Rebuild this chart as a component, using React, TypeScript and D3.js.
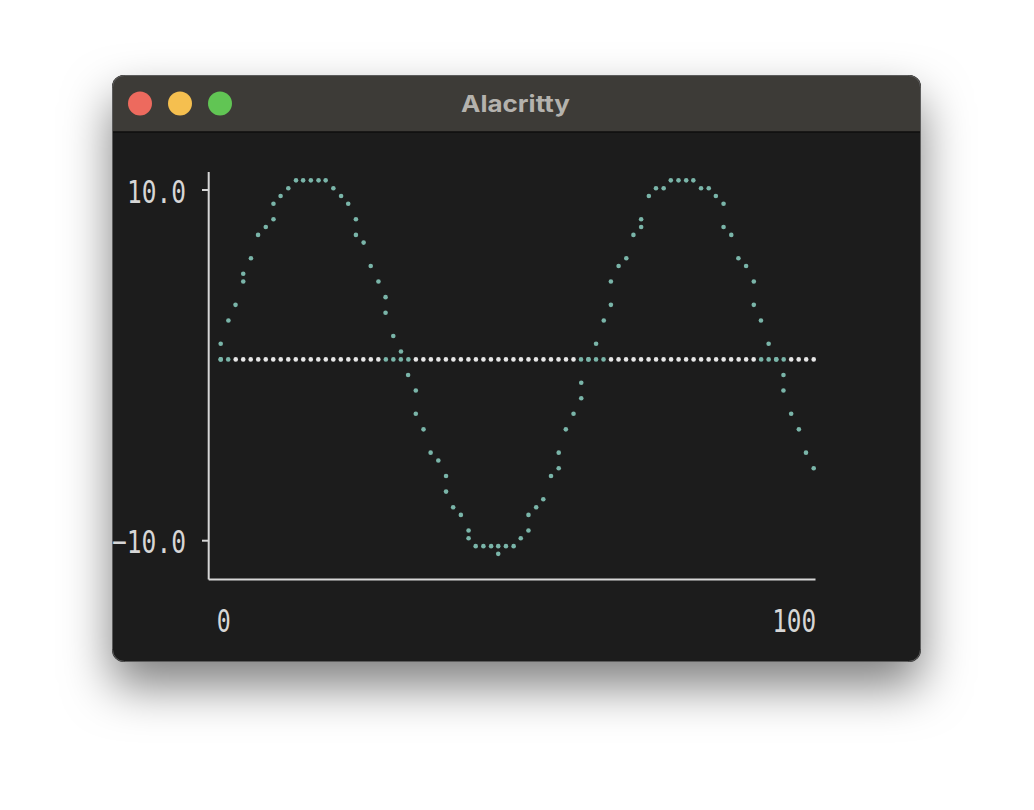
import * as d3 from "d3";
import React from "react";

// x runs 0..100, y labelled at +/-10
const xDomain: [number, number] = [0, 100];
const yTicks = [10, -10];
const xTickLabels = ["0", "100"];
const windowTitle = "Alacritty";

// horizontal reference line (drawn in braille dots)
const zeroLine = 0.34;
const dotColumns = 80;

// sine samples
const sineX = [
	0, 0, 1.3, 2.5, 3.8, 3.8, 5.1, 6.3, 7.6, 8.9, 8.9, 10.1, 11.4, 12.7, 13.9,
	15.2, 16.5, 17.7, 19.0, 20.3, 21.5, 22.8, 22.8, 24.1, 25.3, 26.6, 27.8, 27.8,
	29.1, 30.4, 31.6, 32.9, 32.9, 34.2, 35.4, 36.7, 38.0, 38.0, 39.2, 40.5, 41.8,
	41.8, 43.0, 44.3, 45.6, 46.8, 46.8, 48.1, 49.4, 50.6, 51.9, 51.9, 53.2, 54.4,
	55.7, 57.0, 57.0, 58.2, 59.5, 60.8, 60.8, 62.0, 63.3, 64.6, 65.8, 65.8, 67.1,
	68.4, 69.6, 70.9, 70.9, 72.2, 73.4, 74.7, 75.9, 77.2, 78.5, 79.7, 81.0, 82.3,
	83.5, 84.8, 84.8, 86.1, 87.3, 88.6, 89.9, 89.9, 91.1, 92.4, 93.7, 94.9, 94.9,
	96.2, 97.5, 98.7, 100,
];
const sineY = [
	0.34, 1.23, 2.56, 3.45, 4.78, 5.22, 6.11, 7.44, 7.89, 8.33, 9.22, 9.66, 10.1,
	10.55, 10.55, 10.55, 10.55, 10.55, 10.1, 9.66, 9.22, 8.33, 7.44, 7.0, 5.67,
	4.78, 3.89, 3.0, 1.67, 0.79, -0.55, -1.43, -2.76, -3.65, -4.98, -5.43, -6.31,
	-7.2, -8.09, -8.53, -9.42, -9.86, -10.31, -10.31, -10.31, -10.31, -10.75,
	-10.31, -10.31, -9.86, -9.42, -8.53, -8.09, -7.64, -6.31, -5.87, -4.98, -3.65,
	-2.76, -1.88, -0.99, 0.34, 1.23, 2.56, 3.45, 4.78, 5.67, 6.11, 7.44, 7.89,
	8.33, 9.66, 10.1, 10.1, 10.55, 10.55, 10.55, 10.55, 10.1, 10.1, 9.66, 9.22,
	7.89, 7.44, 6.11, 5.67, 4.78, 3.45, 2.56, 1.23, 0.34, -0.55, -1.43, -2.76,
	-3.65, -4.98, -5.87,
];

const W = 1034;
const H = 810;
const win = { x: 112, y: 75, w: 809, h: 587, r: 12, bar: 57 };

const teal = "#7ab5a9";
const white = "#e6e6e6";
const fg = "#d6d6d6";
const mono = "'DejaVu Sans Mono', monospace";

const App = () => {
	const xScale = d3.scaleLinear().domain(xDomain).range([220.7, 813.7]);
	const yScale = d3.scaleLinear().domain([-10, 10]).range([540.7, 190]);

	const dotPitchY = 7.78;
	const colOf = (x: number) => Math.round((x / xDomain[1]) * (dotColumns - 1));
	const zeroPx = yScale(zeroLine);

	// a braille cell is 2 columns x 4 rows; one colour per cell
	const tealCells = new Set<number>();
	sineX.forEach((x, i) => {
		const py = yScale(sineY[i]);
		if (py <= zeroPx + dotPitchY * 0.5 && py >= zeroPx - dotPitchY * 3.5) {
			tealCells.add(Math.floor(colOf(x) / 2));
		}
	});

	const baseCols = d3.range(dotColumns);

	const axisX = 208.7;
	const axisBottom = 579.5;

	return (
		<svg
			width={W}
			height={H}
			viewBox={`0 0 ${W} ${H}`}
			style={{ position: "absolute", left: 0, top: 0, background: "#fff" }}
		>
			<defs>
				<filter id="shadow" x="-20%" y="-20%" width="140%" height="160%">
					<feDropShadow
						dx="0"
						dy="24"
						stdDeviation="24"
						floodColor="#000"
						floodOpacity="0.5"
					/>
				</filter>
				<clipPath id="winclip">
					<rect x={win.x} y={win.y} width={win.w} height={win.h} rx={win.r} />
				</clipPath>
			</defs>

			<rect
				x={win.x}
				y={win.y}
				width={win.w}
				height={win.h}
				rx={win.r}
				fill="#1b1b1b"
				filter="url(#shadow)"
			/>
			<g clipPath="url(#winclip)">
				<rect x={win.x} y={win.y} width={win.w} height={win.bar} fill="#3d3b37" />
				<line
					x1={win.x}
					x2={win.x + win.w}
					y1={win.y + win.bar}
					y2={win.y + win.bar}
					stroke="#0e0e0e"
					strokeWidth={1.5}
				/>
			</g>
			<rect
				x={win.x + 0.5}
				y={win.y + 0.5}
				width={win.w - 1}
				height={win.h - 1}
				rx={win.r}
				fill="none"
				stroke="#5c5c5c"
				strokeWidth={1}
			/>

			{["#ed6a5e", "#f5bf4f", "#61c554"].map((c, i) => (
				<circle key={c} cx={140 + i * 40} cy={103.5} r={12} fill={c} />
			))}
			<text
				x={461}
				y={111.5}
				fontFamily="Inter, 'Open Sans', sans-serif"
				fontWeight={700}
				fontSize={23}
				fill="#b4b2ad"
				textLength={109}
				lengthAdjust="spacingAndGlyphs"
			>
				{windowTitle}
			</text>

			{/* axes */}
			<line x1={axisX} x2={axisX} y1={172} y2={axisBottom} stroke={fg} strokeWidth={2} />
			<line x1={axisX} x2={815.5} y1={axisBottom} y2={axisBottom} stroke={fg} strokeWidth={2} />
			{yTicks.map((t) => {
				const label = d3.format(".1f")(t);
				return (
					<g key={t}>
						<line x1={202} x2={axisX} y1={yScale(t)} y2={yScale(t)} stroke={fg} strokeWidth={2} />
						<text
							x={187 - label.length * 15}
							y={yScale(t) + 12.5}
							fontFamily={mono}
							fontSize={32}
							fill={fg}
							textLength={label.length * 15 - 1}
							lengthAdjust="spacingAndGlyphs"
						>
							{label}
						</text>
					</g>
				);
			})}
			{xTickLabels.map((label, i) => {
				const v = +label;
				const x0 = i === 0 ? xScale(v) - 4 : xScale(v) + 3.5 - label.length * 15;
				return (
					<text
						key={label}
						x={x0}
						y={632}
						fontFamily={mono}
						fontSize={32}
						fill={fg}
						textLength={label.length * 15 - 1}
						lengthAdjust="spacingAndGlyphs"
					>
						{label}
					</text>
				);
			})}

			{/* zero line as braille dots */}
			{baseCols.map((k) => (
				<circle
					key={`z${k}`}
					cx={xScale((k / (dotColumns - 1)) * xDomain[1])}
					cy={zeroPx}
					r={2.3}
					fill={tealCells.has(Math.floor(k / 2)) ? teal : white}
				/>
			))}

			{/* sine points */}
			{sineX.map((x, i) => (
				<circle key={`s${i}`} cx={xScale(x)} cy={yScale(sineY[i])} r={2.3} fill={teal} />
			))}
		</svg>
	);
};

export default App;
